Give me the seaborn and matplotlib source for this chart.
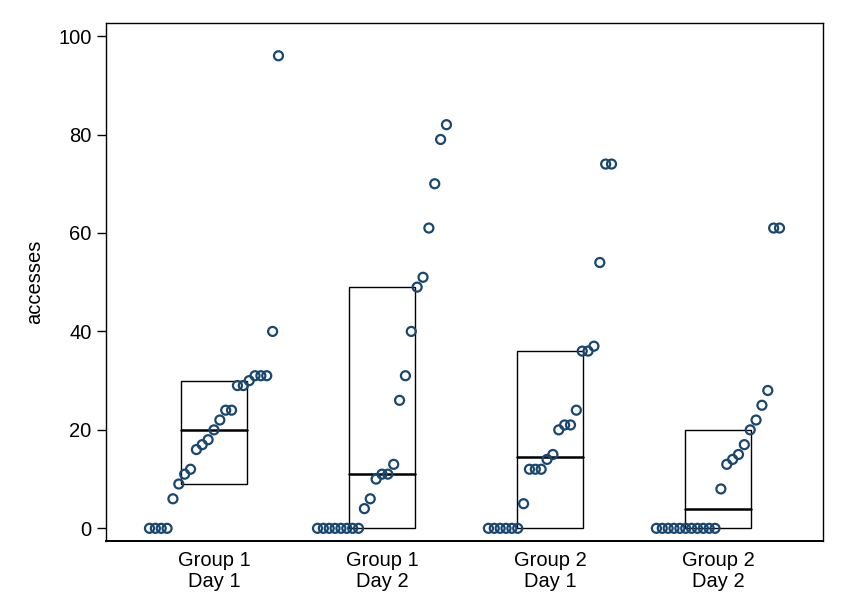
import numpy as np
import pandas as pd
import matplotlib
matplotlib.use('Agg')
import matplotlib.pyplot as plt
from matplotlib.patches import Rectangle
import seaborn as sns

# Values
g1_day1 = [0, 0, 0, 0, 6, 9, 11, 12, 16, 17, 18, 20, 22, 24, 24, 29, 29, 30, 31, 31, 31, 40, 96]
g1_day2 = [0, 0, 0, 0, 0, 0, 0, 0, 4, 6, 10, 11, 11, 13, 26, 31, 40, 49, 51, 61, 70, 79, 82]
g2_day1 = [0, 0, 0, 0, 0, 0, 5, 12, 12, 12, 14, 15, 20, 21, 21, 24, 36, 36, 37, 54, 74, 74]
g2_day2 = [0, 0, 0, 0, 0, 0, 0, 0, 0, 0, 0, 8, 13, 14, 15, 17, 20, 22, 25, 28, 61, 61]
group_labels = ['Group 1\nDay 1', 'Group 1\nDay 2', 'Group 2\nDay 1', 'Group 2\nDay 2']
y_ticks = [0, 20, 40, 60, 80, 100]

groups = [g1_day1, g1_day2, g2_day1, g2_day2]
step = 0.0349      # horizontal spacing between sorted points
half_box = 0.196   # half width of the quartile box

# Build a long table: each value gets an x offset from its rank in the group
rows = []
for i, vals in enumerate(groups):
    vals = np.sort(vals)
    n = len(vals)
    for r, v in enumerate(vals):
        rows.append({'pos': i + 1 + (r - (n - 1) / 2) * step, 'accesses': v, 'group': group_labels[i]})
df = pd.DataFrame(rows)

sns.set_style('ticks')
plt.rcParams['font.family'] = ['Liberation Sans', 'DejaVu Sans']
plt.rcParams['text.color'] = 'black'
plt.rcParams['axes.labelcolor'] = 'black'
plt.rcParams['xtick.color'] = 'black'
plt.rcParams['ytick.color'] = 'black'

fig = plt.figure(figsize=(8.47, 6.16), dpi=100)
ax = fig.add_axes([0.1251, 0.1222, 0.8469, 0.8400])

sns.scatterplot(data=df, x='pos', y='accesses', ax=ax, marker='o', s=42,
                facecolor='none', edgecolor='#1a476f', linewidth=1.6, zorder=3)

# Quartile boxes with median line (Stata-style percentiles)
for i, vals in enumerate(groups):
    q1, med, q3 = np.percentile(vals, [25, 50, 75], method='averaged_inverted_cdf')
    ax.add_patch(Rectangle((i + 1 - half_box, q1), 2 * half_box, q3 - q1,
                           fill=False, edgecolor='black', linewidth=1.0, zorder=2))
    ax.plot([i + 1 - half_box, i + 1 + half_box], [med, med], color='black', linewidth=1.8, zorder=2)

ax.set_xlim(0.357, 4.627)
ax.set_ylim(-2.52, 102.6)
ax.set_xticks([1, 2, 3, 4])
ax.set_xticklabels(group_labels, fontsize=14.5, linespacing=1.12)
ax.set_yticks(y_ticks)
ax.set_yticklabels([str(t) for t in y_ticks], fontsize=14.5)
ax.tick_params(axis='x', length=0, pad=7.5)
ax.tick_params(axis='y', length=6.5, width=1, pad=4, color='black')
ax.set_xlabel('')
ax.set_ylabel('accesses', fontsize=14.5, labelpad=10)
for sp in ax.spines.values():
    sp.set_visible(True)
    sp.set_color('black')
    sp.set_linewidth(1.0)
ax.spines['bottom'].set_linewidth(1.4)

fig.savefig('out.png', dpi=100)
